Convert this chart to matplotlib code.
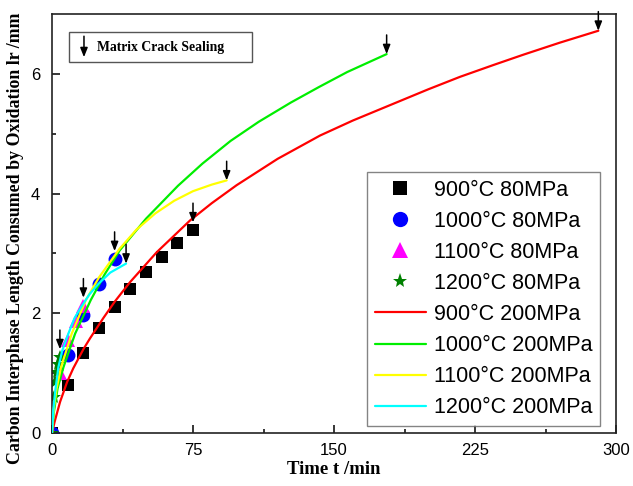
import matplotlib
matplotlib.use("Agg")
import matplotlib.pyplot as plt
from matplotlib.patches import Rectangle

# ---- measured oxidation lengths (80 MPa, discrete points) ----
t_900_80 = [0, 8.3, 16.7, 25, 33.3, 41.7, 50, 58.3, 66.7, 75]
L_900_80 = [0, 0.80, 1.33, 1.75, 2.11, 2.41, 2.69, 2.94, 3.17, 3.39]
t_1000_80 = [0, 8.3, 16.7, 25, 33.3]
L_1000_80 = [0, 1.31, 1.97, 2.49, 2.91]
t_1100_80 = [0, 4.2, 8.3, 12.5, 16.7]
L_1100_80 = [0, 1.00, 1.55, 1.87, 2.13]
t_1200_80 = [0, 0.8, 1.7, 2.5, 3.3, 4.2]
L_1200_80 = [0, 0.60, 0.85, 1.02, 1.16, 1.27]

# ---- model curves (200 MPa) ----
t_900_200 = [0, 1.5, 4.3, 8, 11.3, 16.7, 20.2, 27.3, 33.5, 41.5, 55.7, 73.4, 85,
             98.2, 120, 142.6, 160, 180, 200, 217, 235, 250.7, 270, 290.6]
L_900_200 = [0, 0.20, 0.52, 0.85, 1.08, 1.40, 1.58, 1.92, 2.20, 2.52, 3.02, 3.55, 3.84,
             4.14, 4.58, 4.97, 5.22, 5.48, 5.74, 5.95, 6.15, 6.32, 6.52, 6.72]
t_1000_200 = [0, 1, 3, 6.1, 12.3, 20.6, 28, 36, 50, 67, 80, 95, 110, 127, 142, 157, 178]
L_1000_200 = [0, 0.35, 0.75, 1.10, 1.66, 2.22, 2.65, 3.05, 3.58, 4.13, 4.50, 4.88,
              5.20, 5.52, 5.78, 6.03, 6.33]
t_1100_200 = [0, 1, 2.5, 4.8, 10.5, 18, 25, 36, 45, 55, 65, 75, 85, 92.9]
L_1100_200 = [0, 0.42, 0.75, 1.10, 1.66, 2.22, 2.60, 3.08, 3.40, 3.67, 3.88, 4.04, 4.15, 4.22]
t_1200_200 = [0, 0.7, 1.8, 3.4, 5.5, 8.7, 12, 15.8, 20, 24.6, 31, 39.4]
L_1200_200 = [0, 0.38, 0.72, 1.10, 1.38, 1.66, 1.92, 2.12, 2.32, 2.49, 2.68, 2.83]

labels_80 = ["900\u00b0C 80MPa", "1000\u00b0C 80MPa", "1100\u00b0C 80MPa", "1200\u00b0C 80MPa"]
labels_200 = ["900\u00b0C 200MPa", "1000\u00b0C 200MPa", "1100\u00b0C 200MPa", "1200\u00b0C 200MPa"]

x_ticks = [0, 75, 150, 225, 300]
y_ticks = [0, 2, 4, 6]

sans = ["Liberation Sans", "DejaVu Sans"]
serif = ["Liberation Serif", "DejaVu Serif"]

fig = plt.figure(figsize=(6.33, 4.86), dpi=100)
ax = fig.add_axes([52 / 633, 1 - 433 / 486, 564 / 633, 419 / 486])

# scatter series
pts = [
    (t_900_80, L_900_80, "s", "black", 9),
    (t_1000_80, L_1000_80, "o", "#0000ff", 10),
    (t_1100_80, L_1100_80, "^", "#ff00ff", 10),
    (t_1200_80, L_1200_80, "*", "#008000", 10),
]
for (t, L, m, c, ms), lab in zip(pts, labels_80):
    ax.plot(t, L, linestyle="none", marker=m, color=c, markersize=ms,
            markeredgewidth=0, label=lab, zorder=2)

# curves
curves = [
    (t_900_200, L_900_200, "#ff0000"),
    (t_1000_200, L_1000_200, "#00ee00"),
    (t_1100_200, L_1100_200, "#ffff00"),
    (t_1200_200, L_1200_200, "#00ffff"),
]
for (t, L, c), lab in zip(curves, labels_200):
    ax.plot(t, L, color=c, lw=1.6, label=lab, zorder=3,
            solid_capstyle="round", solid_joinstyle="round")

# crack-sealing arrows at the end of each series
arrow_kw = dict(arrowstyle="-|>,head_length=0.55,head_width=0.22", color="black",
                lw=1.1, shrinkA=0, shrinkB=0)
arrow_len = 0.32
for t, L, *_ in pts[::-1]:
    tip = (t[-1], L[-1] + 0.13)
    ax.annotate("", xy=tip, xytext=(tip[0], tip[1] + arrow_len),
                arrowprops=arrow_kw, annotation_clip=False, zorder=5)
for t, L, _ in curves:
    tip = (t[-1], L[-1])
    ax.annotate("", xy=tip, xytext=(tip[0], tip[1] + arrow_len),
                arrowprops=arrow_kw, annotation_clip=False, zorder=5)

# key box for the arrow symbol
ax.add_patch(Rectangle((0.0301, 0.8854), 0.3245, 0.0716, transform=ax.transAxes,
                       facecolor="white", edgecolor="#555555", lw=1.0, zorder=4))
ax.annotate("", xy=(0.0567, 0.897), xytext=(0.0567, 0.947), xycoords="axes fraction",
            arrowprops=arrow_kw, zorder=5)
ax.text(0.0798, 0.921, "Matrix Crack Sealing", transform=ax.transAxes,
        ha="left", va="center", fontsize=9.9, fontweight="bold", family=serif, zorder=5)

ax.set_xlim(0, 300)
ax.set_ylim(0, 7)
ax.set_xticks(x_ticks)
ax.set_yticks(y_ticks)
ax.set_xticks([37.5, 112.5, 187.5, 262.5], minor=True)
ax.set_yticks([1, 3, 5], minor=True)
ax.tick_params(which="both", direction="in", top=False, right=False, width=1.1,
               labelsize=12)
ax.tick_params(axis="x", which="both", pad=7.5)
ax.tick_params(axis="y", which="both", pad=8.5)
ax.tick_params(which="major", length=5.5)
ax.tick_params(which="minor", length=3)
for lbl in ax.get_xticklabels() + ax.get_yticklabels():
    lbl.set_family(sans)
for s in ax.spines.values():
    s.set_linewidth(1.2)
    s.set_color("#222222")

ax.set_xlabel("Time t /min", fontsize=13.5, fontweight="bold", family=serif)
ax.xaxis.set_label_coords(0.5, -0.068)
ax.set_ylabel("Carbon Interphase Length Consumed by Oxidation lr /mm", fontsize=12.9,
              fontweight="bold", family=serif)
ax.yaxis.set_label_coords(-0.05, 0.465)

leg = ax.legend(loc="upper left", bbox_to_anchor=(0.5585, 0.6229), borderaxespad=0,
                prop={"family": sans, "size": 15.5}, frameon=True, fancybox=False,
                edgecolor="#666666", handlelength=2.4, handletextpad=0.35,
                labelspacing=0.47, borderpad=0.35, markerscale=1.1)
leg.get_frame().set_linewidth(1.0)
leg.set_zorder(6)

fig.savefig("out.png", dpi=100)
